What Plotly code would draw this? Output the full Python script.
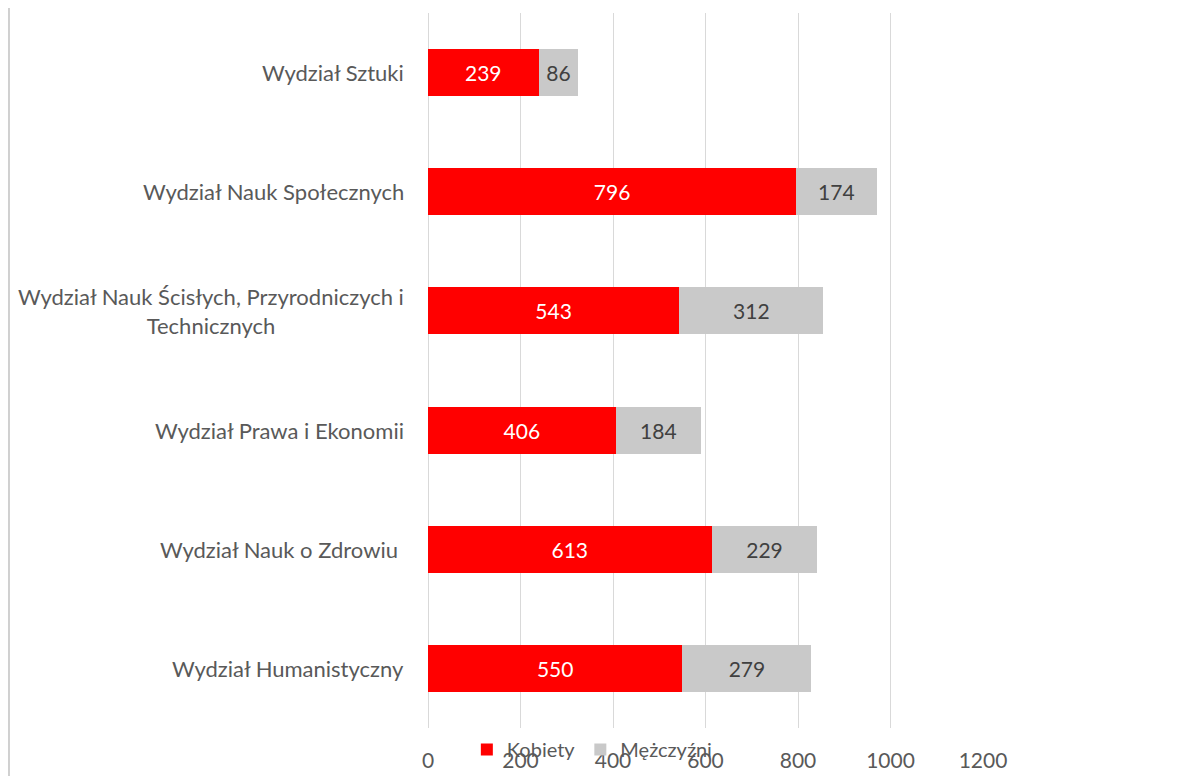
import plotly.graph_objects as go

# faculties, listed bottom to top
wydzialy = [
    "Wydział Humanistyczny",
    "Wydział Nauk o Zdrowiu ",
    "Wydział Prawa i Ekonomii",
    "Wydział Nauk Ścisłych, Przyrodniczych i<br>Technicznych",
    "Wydział Nauk Społecznych",
    "Wydział Sztuki",
]
kobiety = [550, 613, 406, 543, 796, 239]
mezczyzni = [279, 229, 184, 312, 174, 86]
x_ticks = [0, 200, 400, 600, 800, 1000, 1200]

FONT = "Lato, 'Open Sans', sans-serif"
TXT = "#595959"

fig = go.Figure()
fig.add_trace(go.Bar(
    y=wydzialy, x=kobiety, orientation="h", name="Kobiety",
    marker=dict(color="#FF0000", line=dict(width=0)),
    text=kobiety, textposition="inside", insidetextanchor="middle",
    textfont=dict(color="white", size=21, family=FONT),
))
fig.add_trace(go.Bar(
    y=wydzialy, x=mezczyzni, orientation="h", name="Mężczyźni",
    marker=dict(color="#C9C9C9", line=dict(width=0)),
    text=mezczyzni, textposition="inside", insidetextanchor="middle",
    textfont=dict(color="#404040", size=21, family=FONT),
))

# category labels as annotations so the wrapped one is centred like in Excel
for w in wydzialy:
    fig.add_annotation(
        x=-0.04, xref="paper", y=w, yref="y", text=w, showarrow=False,
        xanchor="right", align="center",
        font=dict(size=22, color=TXT, family=FONT),
    )

# chart frame line at the left
fig.add_shape(type="line", xref="paper", yref="paper",
              x0=-0.7550, x1=-0.7550, y0=-0.08, y1=1.01,
              line=dict(color="#D0D0D0", width=2))

fig.update_layout(
    width=1170, height=768,
    barmode="stack", bargap=0.605,
    plot_bgcolor="white", paper_bgcolor="white",
    margin=dict(l=420, r=195, t=5, b=48),
    font=dict(family=FONT, color=TXT, size=21),
    showlegend=True,
    legend=dict(orientation="h", x=0.070, xanchor="left", y=-0.030, yanchor="middle",
                font=dict(size=20, color=TXT, family=FONT),
                bgcolor="rgba(0,0,0,0)", traceorder="normal"),
    xaxis=dict(range=[0, 1200], tickvals=x_ticks, showgrid=True,
               gridcolor="#D9D9D9", gridwidth=1, zeroline=True,
               zerolinecolor="#D9D9D9", zerolinewidth=1, showline=False,
               ticklabelstandoff=18, tickfont=dict(size=21, color=TXT)),
    yaxis=dict(showticklabels=False, showgrid=False, showline=False,
               categoryorder="array", categoryarray=wydzialy),
)

fig.write_html("out.html")
